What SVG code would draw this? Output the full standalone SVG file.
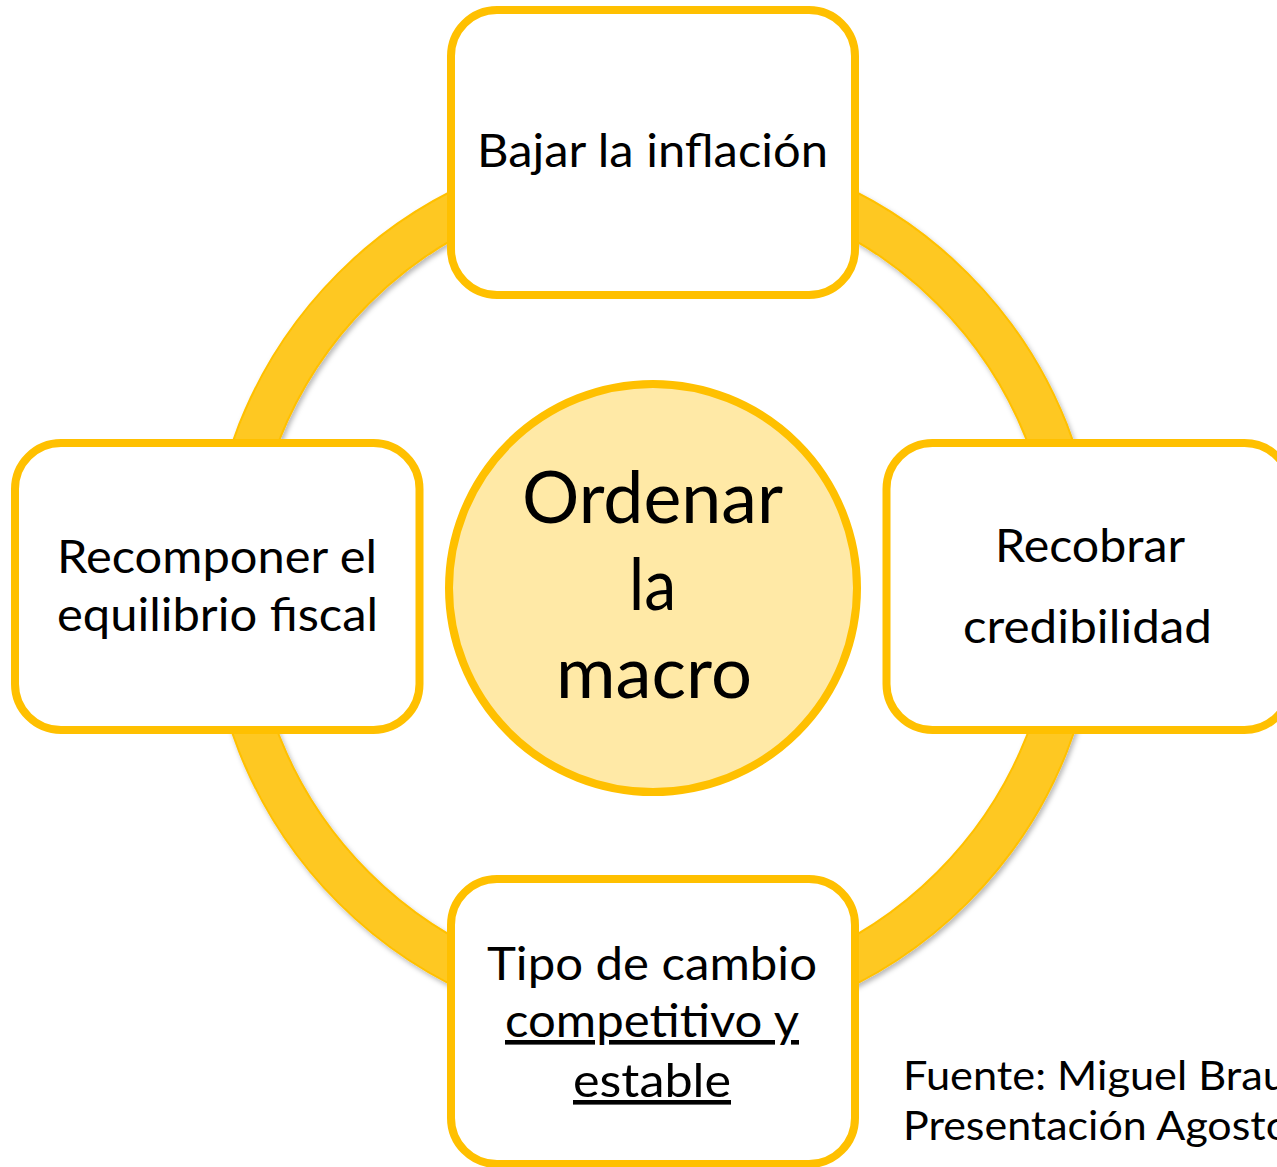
<svg xmlns="http://www.w3.org/2000/svg" width="1277" height="1167" viewBox="0 0 1277 1167">
  <defs>
    <filter id="shadow" x="-10%" y="-10%" width="120%" height="120%">
      <feDropShadow dx="2" dy="3" stdDeviation="2.5" flood-color="#000" flood-opacity="0.28"/>
    </filter>
  </defs>
  <style>
    .box { fill: #ffffff; stroke: #FFC000; stroke-width: 8; }
    .hub { fill: #FFE9A6; stroke: #FFC000; stroke-width: 8; }
    .ring { fill: #FEC822; stroke: #FFC000; stroke-width: 2; fill-rule: evenodd; }
    .t { font-family: Lato, "Open Sans", "Liberation Sans", sans-serif; fill: #000; }
    .m { font-size: 46px; }
    .c { font-size: 71px; }
    .s { font-size: 40px; }
    .u { text-decoration: underline; }
  </style>
  <rect width="1277" height="1167" fill="#ffffff"/>

  <g id="connectors">
    <path class="ring" filter="url(#shadow)" d="M 653,143 A 445,445 0 1,0 653,1033 A 445,445 0 1,0 653,143 Z M 653,186 A 402,402 0 1,0 653,990 A 402,402 0 1,0 653,186 Z"/>
  </g>

  <g id="hub">
    <circle class="hub" cx="653" cy="588" r="204"/>
    <text class="t c" x="522" y="523" textLength="261" lengthAdjust="spacingAndGlyphs">Ordenar</text>
    <text class="t c" x="629" y="610" textLength="47" lengthAdjust="spacingAndGlyphs">la</text>
    <text class="t c" x="556" y="698" textLength="196" lengthAdjust="spacingAndGlyphs">macro</text>
  </g>

  <g id="node-top">
    <rect class="box" x="451" y="10" width="404" height="285" rx="46" ry="46"/>
    <text class="t m" x="477" y="167" textLength="351" lengthAdjust="spacingAndGlyphs">Bajar la inflación</text>
  </g>

  <g id="node-right">
    <rect class="box" x="886.5" y="443" width="404" height="287" rx="46" ry="46"/>
    <text class="t m" x="995" y="562" textLength="190" lengthAdjust="spacingAndGlyphs">Recobrar</text>
    <text class="t m" x="963" y="643" textLength="249" lengthAdjust="spacingAndGlyphs">credibilidad</text>
  </g>

  <g id="node-left">
    <rect class="box" x="15" y="443" width="404.5" height="287" rx="46" ry="46"/>
    <text class="t m" x="57" y="573" textLength="320" lengthAdjust="spacingAndGlyphs">Recomponer el</text>
    <text class="t m" x="57" y="631" textLength="321" lengthAdjust="spacingAndGlyphs">equilibrio fiscal</text>
  </g>

  <g id="node-bottom">
    <rect class="box" x="451" y="879" width="404" height="285" rx="46" ry="46"/>
    <text class="t m" x="487" y="980" textLength="330" lengthAdjust="spacingAndGlyphs">Tipo de cambio</text>
    <text class="t m u" x="505" y="1037" textLength="294" lengthAdjust="spacingAndGlyphs">competitivo y</text>
    <text class="t m u" x="573" y="1097" textLength="158" lengthAdjust="spacingAndGlyphs">estable</text>
  </g>

  <g id="source">
    <text class="t s" x="903" y="1090" textLength="384" lengthAdjust="spacingAndGlyphs">Fuente: Miguel Brau</text>
    <text class="t s" x="903" y="1140" textLength="387" lengthAdjust="spacingAndGlyphs">Presentación Agosto</text>
  </g>
</svg>
